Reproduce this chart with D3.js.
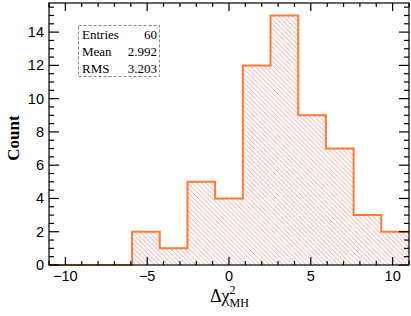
<!DOCTYPE html>
<html><head><meta charset="utf-8">
<script src="https://cdn.jsdelivr.net/npm/d3@7"></script>
<style>body{margin:0;background:#fff}svg{display:block}</style>
</head><body>
<script>
const binEdgesRange = [-11, 11];
const nBins = 13;
const counts = [0, 0, 0, 2, 1, 5, 4, 12, 15, 9, 7, 3, 2];
const xTicks = [-10, -5, 0, 5, 10];
const yTicks = [0, 2, 4, 6, 8, 10, 12, 14];
const statsLabels = ["Entries", "Mean", "RMS"];
const statsValues = ["60", "2.992", "3.203"];

const W = 411, H = 316;
const L = 49, R = 409, T = 3, B = 265;
const svg = d3.select("body").append("svg").attr("width", W).attr("height", H);
const x = d3.scaleLinear().domain(binEdgesRange).range([L, R]);
const y = d3.scaleLinear().domain([0, 15.75]).range([B, T]);
const bw = (binEdgesRange[1] - binEdgesRange[0]) / nBins;
const bins = counts.map((c, i) => ({x0: binEdgesRange[0] + i * bw, x1: binEdgesRange[0] + (i + 1) * bw, c}));

const defs = svg.append("defs");
const pat = defs.append("pattern").attr("id", "hatch").attr("patternUnits", "userSpaceOnUse")
  .attr("width", 4.6).attr("height", 4.6);
pat.append("path").attr("d", "M-1,-1 L5.6,5.6 M-1,3.6 L1,5.6 M3.6,-1 L5.6,1")
  .attr("stroke", "#f29090").attr("stroke-width", 0.85).attr("fill", "none");

// fill
svg.append("g").selectAll("rect").data(bins.filter(d => d.c > 0)).join("rect")
  .attr("x", d => x(d.x0)).attr("width", d => x(d.x1) - x(d.x0))
  .attr("y", d => y(d.c)).attr("height", d => y(0) - y(d.c))
  .attr("fill", "url(#hatch)");

// outline step
let pts = [];
bins.forEach(d => { pts.push([x(d.x0), y(d.c)]); pts.push([x(d.x1), y(d.c)]); });
svg.append("path").attr("d", d3.line()(pts)).attr("fill", "none")
  .attr("stroke", "#ff7a33").attr("stroke-width", 2);

// frame
svg.append("rect").attr("x", L).attr("y", T).attr("width", R - L).attr("height", B - T)
  .attr("fill", "none").attr("stroke", "#000").attr("stroke-width", 1.2);

const tk = svg.append("g").attr("stroke", "#000").attr("stroke-width", 1.2);
// x ticks
for (let v = -11; v <= 11; v++) {
  const major = v % 5 === 0;
  const len = major ? 8 : 4;
  tk.append("line").attr("x1", x(v)).attr("x2", x(v)).attr("y1", B).attr("y2", B - len);
  tk.append("line").attr("x1", x(v)).attr("x2", x(v)).attr("y1", T).attr("y2", T + len);
}
// y ticks
for (let v = 0; v <= 15.5; v += 0.5) {
  const major = v % 2 === 0;
  const len = major ? 10 : 5;
  tk.append("line").attr("x1", L).attr("x2", L + len).attr("y1", y(v)).attr("y2", y(v));
  tk.append("line").attr("x1", R).attr("x2", R - len).attr("y1", y(v)).attr("y2", y(v));
}
const fmt = v => (v < 0 ? "\u2212" + Math.abs(v) : String(v));
svg.append("g").selectAll("text").data(xTicks).join("text")
  .attr("x", d => x(d)).attr("y", 281).attr("text-anchor", "middle")
  .attr("font-family", "Liberation Sans, Arial, sans-serif").attr("font-size", 14.5)
  .text(fmt);
svg.append("g").selectAll("text").data(yTicks).join("text")
  .attr("x", 44).attr("y", d => y(d) + 5).attr("text-anchor", "end")
  .attr("font-family", "Liberation Sans, Arial, sans-serif").attr("font-size", 14.5)
  .text(fmt);

// axis titles
svg.append("text").attr("transform", "translate(19,138) rotate(-90)").attr("text-anchor", "middle")
  .attr("font-family", "Liberation Serif, Times New Roman, serif").attr("font-size", 17).attr("font-weight", "bold")
  .text("Count");
const xt = svg.append("text").attr("x", 210).attr("y", 302)
  .attr("font-family", "Liberation Serif, Times New Roman, serif").attr("font-size", 18);
xt.append("tspan").text("\u0394\u03c7");
xt.append("tspan").attr("font-size", 12).attr("dy", -8).attr("dx", 0).text("2");
xt.append("tspan").attr("font-size", 12).attr("dy", 13).attr("dx", -6).text("MH");

// stats box
svg.append("rect").attr("x", 78.5).attr("y", 25.5).attr("width", 81).attr("height", 51)
  .attr("fill", "#fff").attr("stroke", "#888").attr("stroke-dasharray", "3,2").attr("stroke-width", 1);
statsLabels.forEach((s, i) => {
  svg.append("text").attr("x", 82).attr("y", 39 + i * 17)
    .attr("font-family", "Liberation Serif, Times New Roman, serif").attr("font-size", 13).text(s);
  svg.append("text").attr("x", 157).attr("y", 39 + i * 17).attr("text-anchor", "end")
    .attr("font-family", "Liberation Serif, Times New Roman, serif").attr("font-size", 13).text(statsValues[i]);
});
</script>
</body></html>
